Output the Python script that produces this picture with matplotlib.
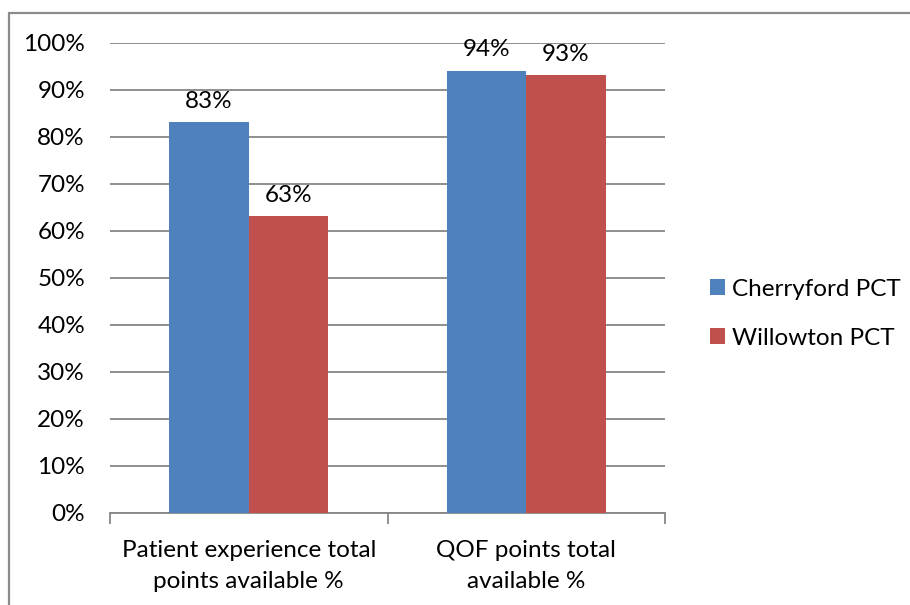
import matplotlib.pyplot as plt
from matplotlib.patches import Rectangle
from matplotlib.ticker import PercentFormatter

categories = ["Patient experience total\npoints available %", "QOF points total\navailable %"]
series_names = ["Cherryford PCT", "Willowton PCT"]
cherryford = [83, 94]
willowton = [63, 93]
y_ticks = list(range(0, 101, 10))

BLUE = "#4F81BD"
RED = "#C0504D"
GRID = "#868686"
FS = 17.5

plt.rcParams["font.family"] = ["Lato", "DejaVu Sans"]

fig = plt.figure(figsize=(9.1, 6.05), dpi=100)
fig.patch.set_facecolor("white")

# chart area frame (runs off the right and bottom edges)
fig.patches.append(Rectangle((9 / 910, -0.1), 1.2, 1 - 13 / 605 + 0.1,
                             transform=fig.transFigure, fill=False,
                             edgecolor="#8c8c8c", linewidth=1.6))

ax = fig.add_axes([110 / 910, (605 - 512.5) / 605, 555 / 910, 470 / 605])

n = len(categories)
bar_w = 1 / 3.5  # Excel gap width 150%
xs = [i + 0.5 for i in range(n)]
for j, (vals, col) in enumerate([(cherryford, BLUE), (willowton, RED)]):
    pos = [x + (j - 0.5) * bar_w for x in xs]
    ax.bar(pos, vals, width=bar_w, color=col, label=series_names[j], zorder=3)
    for p, v in zip(pos, vals):
        ax.text(p, v + 2.2, f"{v}%", ha="center", va="bottom", fontsize=FS, zorder=4)

ax.set_xlim(0, n)
ax.set_ylim(0, 100)
ax.set_yticks(y_ticks)
ax.yaxis.set_major_formatter(PercentFormatter(decimals=0))
ax.grid(axis="y", color=GRID, linewidth=1.3, zorder=0)

for s in ["top", "right", "left"]:
    ax.spines[s].set_visible(False)
ax.spines["bottom"].set_color(GRID)
ax.spines["bottom"].set_linewidth(1.3)

ax.set_xticks(range(n + 1))
ax.set_xticklabels([])
ax.set_xticks(xs, minor=True)
ax.set_xticklabels(categories, minor=True, fontsize=FS, linespacing=1.6)
ax.tick_params(axis="x", which="major", length=8, width=1.3, color=GRID, direction="out")
ax.tick_params(axis="x", which="minor", length=0, pad=20)
ax.tick_params(axis="y", length=0, labelsize=FS, pad=18)

ax.legend(loc="center left", bbox_to_anchor=(1.081, 0.423), frameon=False, fontsize=FS,
          borderpad=0, borderaxespad=0, handlelength=0.62, handleheight=0.62,
          handletextpad=0.3, labelspacing=1.15)

fig.savefig("out.png", dpi=100)
